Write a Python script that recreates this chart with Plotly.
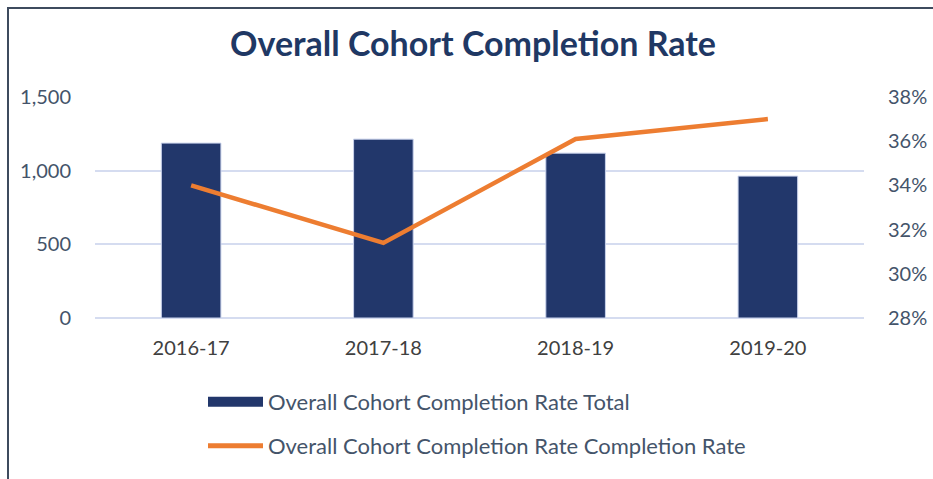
import plotly.graph_objects as go

categories = ["2016-17", "2017-18", "2018-19", "2019-20"]
totals = [1187, 1214, 1119, 963]
completion_rate = [0.340, 0.314, 0.361, 0.370]

left_ticks = [0, 500, 1000, 1500]
right_ticks = [0.28, 0.30, 0.32, 0.34, 0.36, 0.38]

NAVY = "#22376B"
ORANGE = "#ED7D31"
LABEL = "#44546A"
GRID = "#D5DCF0"
FONT = "Lato"

fig = go.Figure()
fig.add_trace(go.Bar(
    x=categories, y=totals, name="Overall Cohort Completion Rate Total",
    marker=dict(color=NAVY, line=dict(color="#C9D2EC", width=1)),
    showlegend=False, yaxis="y",
))
fig.add_trace(go.Scatter(
    x=categories, y=completion_rate, name="Overall Cohort Completion Rate Completion Rate",
    mode="lines", line=dict(color=ORANGE, width=4.5), showlegend=False, yaxis="y2",
))
# legend entries
fig.add_trace(go.Scatter(
    x=[None], y=[None], mode="lines", name="Overall Cohort Completion Rate Total",
    line=dict(color=NAVY, width=14), legend="legend", yaxis="y",
))
fig.add_trace(go.Scatter(
    x=[None], y=[None], mode="lines", name="Overall Cohort Completion Rate Completion Rate",
    line=dict(color=ORANGE, width=5), legend="legend2", yaxis="y2",
))

W, H = 933, 479
L, R, T, B = 95, 69, 97, 161
pw, ph = W - L - R, H - T - B

def px_x(p):
    return (p - L) / pw

def px_y(p):
    return (H - B - p) / ph

fig.update_layout(
    width=W, height=H,
    margin=dict(l=L, r=R, t=T, b=B, autoexpand=False),
    plot_bgcolor="white", paper_bgcolor="white",
    font=dict(family=FONT, color=LABEL, size=17),
    title=dict(text="<b>Overall Cohort Completion Rate</b>", x=473 / W, xanchor="center",
               y=1 - 44 / H, yanchor="middle",
               font=dict(family=FONT, size=34, color="#1F3864")),
    bargap=0.69,
    xaxis=dict(showgrid=False, showline=False, ticks="", ticklabelstandoff=16,
               tickfont=dict(size=20, color="#404040")),
    yaxis=dict(range=[0, 1500], tickvals=left_ticks, tickformat=",", showgrid=True,
               gridcolor=GRID, gridwidth=1.5, zeroline=True, zerolinecolor=GRID,
               zerolinewidth=1.5, showline=False, ticks="", ticklabelstandoff=23,
               tickfont=dict(size=20, color=LABEL)),
    yaxis2=dict(range=[0.28, 0.38], tickvals=right_ticks, tickformat=".0%", overlaying="y",
                side="right", showgrid=False, zeroline=False, showline=False, ticks="",
                ticklabelstandoff=23, tickfont=dict(size=20, color=LABEL)),
    legend=dict(x=px_x(203), y=px_y(402), xanchor="left", yanchor="middle",
                itemwidth=55, font=dict(size=22, color=LABEL), bgcolor="rgba(0,0,0,0)"),
    legend2=dict(x=px_x(203), y=px_y(446), xanchor="left", yanchor="middle",
                 itemwidth=55, font=dict(size=22, color=LABEL), bgcolor="rgba(0,0,0,0)"),
    shapes=[dict(type="rect", xref="paper", yref="paper",
                 x0=px_x(8), x1=px_x(945), y0=px_y(490), y1=px_y(8),
                 line=dict(color="#3E4B5E", width=2), layer="below")],
)

fig.write_html("out.html", config={"displayModeBar": False},
               post_script="document.body.style.margin='0';document.body.style.overflow='hidden';")
